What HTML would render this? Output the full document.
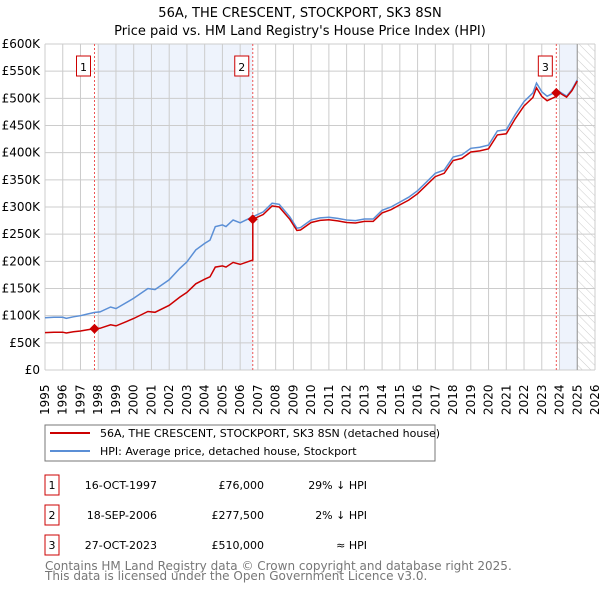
<!DOCTYPE html>
<html><head><meta charset="utf-8"><style>
body{margin:0;background:#fff;}
svg text{font-family:"DejaVu Sans","Liberation Sans",sans-serif;}
</style></head><body>
<svg id="chart" width="600" height="590" viewBox="0 0 600 590" xmlns="http://www.w3.org/2000/svg">
<text x="300" y="17" text-anchor="middle" font-size="13">56A, THE CRESCENT, STOCKPORT, SK3 8SN</text>
<text x="300" y="35" text-anchor="middle" font-size="13">Price paid vs. HM Land Registry's House Price Index (HPI)</text>
<defs><pattern id="hatch" width="6" height="6" patternUnits="userSpaceOnUse" patternTransform="rotate(-45)"><line x1="0" y1="0" x2="0" y2="6" stroke="#ccc" stroke-width="1"/></pattern></defs>
<g id="plot"></g>
<rect x="45" y="425" width="390" height="36" fill="#fff" stroke="#777"/>
<line x1="50" y1="433" x2="90" y2="433" stroke="#cc0000" stroke-width="2"/>
<text x="100" y="437" font-size="11">56A, THE CRESCENT, STOCKPORT, SK3 8SN (detached house)</text>
<line x1="50" y1="451" x2="90" y2="451" stroke="#5b8fd6" stroke-width="2"/>
<text x="100" y="455" font-size="11">HPI: Average price, detached house, Stockport</text>
<g id="table" font-size="11"></g>
<text x="45" y="570" font-size="12" fill="#777">Contains HM Land Registry data © Crown copyright and database right 2025.</text>
<text x="45" y="580" font-size="12" fill="#777">This data is licensed under the Open Government Licence v3.0.</text>
</svg>
<script>
const hpiYears=[1995,1995.5,1996,1996.2,1996.6,1997,1997.4,1997.8,1998.1,1998.7,1999,2000,2000.8,2001.2,2002,2002.6,2003,2003.5,2004,2004.3,2004.6,2005,2005.2,2005.6,2006,2006.7,2007.3,2007.8,2008.2,2008.8,2009.2,2009.4,2010,2010.5,2011,2011.5,2012,2012.5,2013,2013.5,2014,2014.5,2015,2015.5,2016,2016.5,2017,2017.5,2018,2018.5,2019,2019.5,2020,2020.5,2021,2021.5,2022,2022.5,2022.7,2023,2023.3,2023.82,2024,2024.4,2024.7,2025];
const hpiValues=[96,97,97,95,98,100,103,106,107,116,113,132,150,148,166,187,199,221,233,239,264,267,264,276,271,282,291,307,305,282,261,262,276,280,281,279,276,275,278,278,294,300,309,318,330,346,362,368,392,396,408,410,414,440,442,470,494,510,528,512,504,512,512,504,516,534];
const saleYears=[1997.79,2006.71,2023.82];
const salePrices=[76000,277500,510000];
const saleLabels=["1","2","3"];
const saleDates=["16-OCT-1997","18-SEP-2006","27-OCT-2023"];
const salePriceText=["£76,000","£277,500","£510,000"];
const saleHpiText=["29% ↓ HPI","2% ↓ HPI","≈ HPI"];
const yTicks=[0,50,100,150,200,250,300,350,400,450,500,550,600];
const xTicks=[];for(let y=1995;y<=2026;y++)xTicks.push(y);

const X0=45,X1=595,Y0=370,Y1=44;
const xs=t=>X0+(t-1995)/(2026-1995)*(X1-X0);
const ys=v=>Y0-v/600000*(Y0-Y1);
const NS="http://www.w3.org/2000/svg";
const plot=document.getElementById('plot');
function mk(tag,attrs,parent){const e=document.createElementNS(NS,tag);for(const k in attrs)e.setAttribute(k,attrs[k]);(parent||plot).appendChild(e);return e;}
function hpiAt(t){for(let i=0;i<hpiYears.length-1;i++){if(t<=hpiYears[i+1]){const f=(t-hpiYears[i])/(hpiYears[i+1]-hpiYears[i]);return (hpiValues[i]+f*(hpiValues[i+1]-hpiValues[i]))*1000;}}return hpiValues[hpiValues.length-1]*1000;}

let r=mk('rect',{x:X0,y:Y1,width:X1-X0,height:Y0-Y1,fill:'#fff'});


r=mk('rect',{x:xs(1998),y:Y1,width:xs(saleYears[1])-xs(1998),height:Y0-Y1,fill:'#eef3fc'});


r=mk('rect',{x:xs(2024),y:Y1,width:xs(2025)-xs(2024),height:Y0-Y1,fill:'#eef3fc'});


r=mk('rect',{x:xs(2025),y:Y1,width:X1-xs(2025),height:Y0-Y1,fill:'url(#hatch)'});


xTicks.forEach(y=>{
  const g=mk('line',{x1:xs(y),x2:xs(y),y1:Y1,y2:Y0,stroke:'#ccc','stroke-width':1});
  
  
  const t=mk('text',{transform:`translate(${xs(y)+4},${Y0+45}) rotate(-90)`,'font-size':12});
  t.textContent=y;
  
  
});
yTicks.forEach(v=>{
  const g=mk('line',{x1:X0,x2:X1,y1:ys(v*1000),y2:ys(v*1000),stroke:'#ccc','stroke-width':1});
  
  
  const t=mk('text',{x:X0-5,y:ys(v*1000)+4,'text-anchor':'end','font-size':12});
  t.textContent=v===0?'£0':'£'+v+'K';
  
  
});
let l=mk('line',{x1:xs(2025),x2:xs(2025),y1:Y1,y2:Y0,stroke:'#999','stroke-width':1});


saleYears.forEach((s,i)=>{
  const d=mk('line',{x1:xs(s),x2:xs(s),y1:Y1,y2:Y0,stroke:'#e55','stroke-width':1,'stroke-dasharray':'2,2'});
  
  
  const b=mk('rect',{x:xs(s)-18,y:Y1+12,width:14,height:20,fill:'#fff',stroke:'#cc0000'});
  
  
  const t=mk('text',{x:xs(s)-11,y:Y1+27,'text-anchor':'middle','font-size':11});
  t.textContent=saleLabels[i];
  
  
});
let hp=hpiYears.map((t,i)=>`${xs(t).toFixed(1)},${ys(hpiValues[i]*1000).toFixed(1)}`).join(' ');
const hl=mk('polyline',{points:hp,fill:'none',stroke:'#5b8fd6','stroke-width':1.5});


const pts=[];
function seg(idx,t){return salePrices[idx]*hpiAt(t)/hpiAt(saleYears[idx]);}
hpiYears.forEach((t,i)=>{
  let idx=0;for(let k=0;k<saleYears.length;k++)if(t>=saleYears[k])idx=k;
  saleYears.forEach((s,k)=>{if(k>0&&i>0&&s>hpiYears[i-1]&&s<=t){pts.push([s,seg(k-1,s)]);pts.push([s,salePrices[k]]);}});
  if(i>0&&saleYears[0]>hpiYears[i-1]&&saleYears[0]<=t)pts.push([saleYears[0],salePrices[0]]);
  pts.push([t,seg(idx,t)]);
});
const pl=mk('polyline',{points:pts.map(p=>`${xs(p[0]).toFixed(1)},${ys(p[1]).toFixed(1)}`).join(' '),fill:'none',stroke:'#cc0000','stroke-width':1.5});


saleYears.forEach((s,i)=>{
  const cx=xs(s),cy=ys(salePrices[i]);
  const m=mk('polygon',{points:`${cx},${cy-5} ${cx+5},${cy} ${cx},${cy+5} ${cx-5},${cy}`,fill:'#cc0000'});
  
  
});
const tb=document.getElementById('table');
saleYears.forEach((s,i)=>{
  const y=475+i*30;
  const b=mk('rect',{x:45,y:y,width:14,height:20,fill:'#fff',stroke:'#cc0000'},tb);
  
  
  const cells=[[52,'middle',saleLabels[i],'table-sale-number'],[157,'end',saleDates[i],'table-sale-date'],[264,'end',salePriceText[i],'table-sale-price'],[367,'end',saleHpiText[i],'table-sale-hpi']];
  cells.forEach(c=>{
    const t=mk('text',{x:c[0],y:y+14,'text-anchor':c[1]},tb);
    t.textContent=c[2];
    
    
  });
});
</script>
</body></html>
